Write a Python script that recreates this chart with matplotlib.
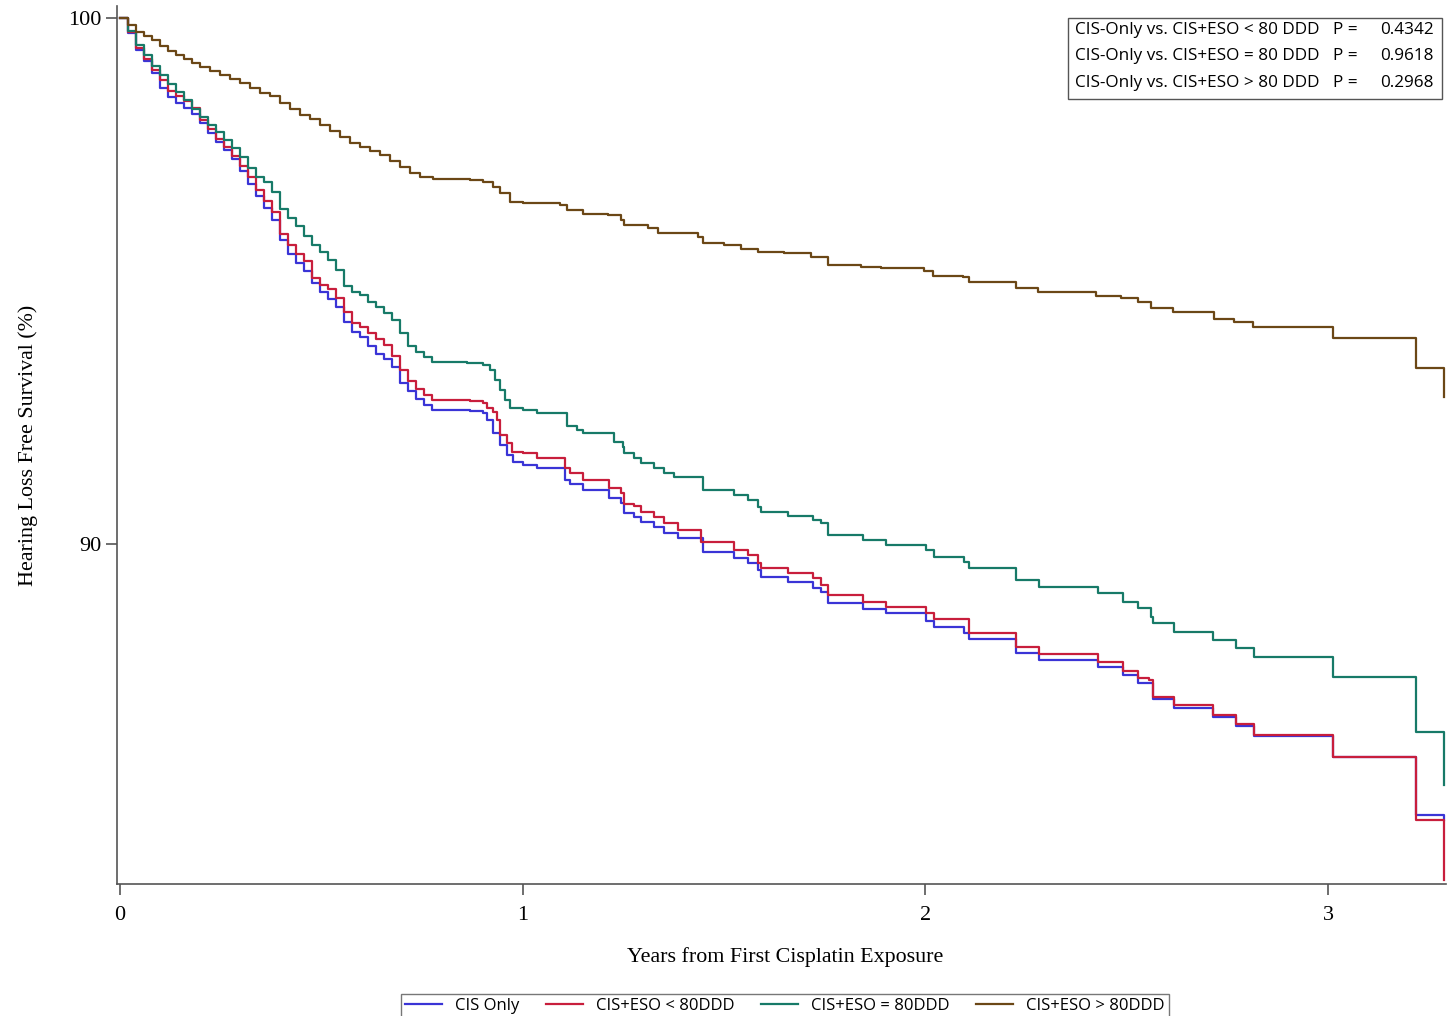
import matplotlib
matplotlib.use("Agg")
import matplotlib.pyplot as plt
from matplotlib.patches import Rectangle

# --- data (years, survival %) ---
# the first ~0.8 years are read at the same time points for the three lower curves
early_t = [0, 0.0199, 0.0398, 0.0597, 0.0795, 0.0994, 0.1193, 0.1392, 0.1591, 0.1790,
           0.1988, 0.2187, 0.2386, 0.2585, 0.2784, 0.2983, 0.3181, 0.3380, 0.3579, 0.3778,
           0.3977, 0.4176, 0.4374, 0.4573, 0.4772, 0.4971, 0.5170, 0.5369, 0.5567, 0.5766,
           0.5965, 0.6164, 0.6363, 0.6562, 0.6761, 0.6959, 0.7158, 0.7357, 0.7556, 0.7755]

cis_only_t = early_t + [0.8699, 0.9023, 0.9122, 0.9271, 0.9445, 0.9619, 0.9768, 1.0017, 1.0365,
                        1.1061, 1.1185, 1.1508, 1.2129, 1.2428, 1.2502, 1.2751, 1.2925, 1.3248,
                        1.3496, 1.3844, 1.4466, 1.5236, 1.5584, 1.5833, 1.5907, 1.6578, 1.7200,
                        1.7399, 1.7573, 1.8443, 1.9014, 2.0008, 2.0207, 2.0953, 2.1077, 2.2246,
                        2.2817, 2.4284, 2.4905, 2.5278, 2.5651, 2.6173, 2.7142, 2.7714, 2.8161,
                        3.0125, 3.2187, 3.2883]
cis_only_s = [100, 99.71, 99.39, 99.18, 98.95, 98.67, 98.50, 98.38, 98.29, 98.17,
              98.00, 97.81, 97.64, 97.49, 97.32, 97.09, 96.84, 96.62, 96.39, 96.16,
              95.78, 95.51, 95.34, 95.19, 94.96, 94.79, 94.66, 94.51, 94.22, 94.03,
              93.94, 93.76, 93.61, 93.52, 93.37, 93.06, 92.91, 92.76, 92.64, 92.55,
              92.53, 92.49, 92.36, 92.11, 91.88, 91.69, 91.56, 91.50, 91.44,
              91.22, 91.14, 91.03, 90.87, 90.78, 90.59, 90.51, 90.42, 90.32,
              90.21, 90.11, 89.85, 89.73, 89.64, 89.51, 89.37, 89.28, 89.16,
              89.09, 88.88, 88.76, 88.69, 88.54, 88.42, 88.31, 88.19, 87.93,
              87.79, 87.66, 87.51, 87.36, 87.05, 86.88, 86.71, 86.54, 86.35,
              85.95, 84.85, 84.75]

eso_lt80_t = early_t + [0.8699, 0.9023, 0.9122, 0.9271, 0.9370, 0.9445, 0.9619, 0.9743, 1.0017,
                        1.0365, 1.1061, 1.1185, 1.1508, 1.2129, 1.2428, 1.2502, 1.2751, 1.2925,
                        1.3248, 1.3496, 1.3844, 1.4416, 1.5236, 1.5584, 1.5833, 1.5907, 1.6578,
                        1.7200, 1.7399, 1.7573, 1.8443, 1.9014, 2.0008, 2.0207, 2.1077, 2.2246,
                        2.2817, 2.4284, 2.4905, 2.5278, 2.5551, 2.5651, 2.6173, 2.7142, 2.7714,
                        2.8161, 3.0125, 3.2187, 3.2883]
eso_lt80_s = [100, 99.73, 99.43, 99.22, 99.01, 98.82, 98.61, 98.52, 98.42, 98.29,
              98.06, 97.89, 97.70, 97.55, 97.38, 97.19, 96.98, 96.73, 96.52, 96.31,
              95.89, 95.68, 95.51, 95.38, 95.06, 94.92, 94.85, 94.68, 94.41, 94.20,
              94.13, 94.01, 93.90, 93.78, 93.57, 93.31, 93.10, 92.95, 92.83, 92.74,
              92.72, 92.68, 92.59, 92.51, 92.36, 92.07, 91.92, 91.75, 91.73,
              91.63, 91.44, 91.35, 91.22, 91.06, 90.97, 90.76, 90.72, 90.61,
              90.51, 90.40, 90.27, 90.04, 89.89, 89.79, 89.64, 89.54, 89.45,
              89.35, 89.22, 89.03, 88.90, 88.80, 88.69, 88.57, 88.31, 88.04,
              87.91, 87.76, 87.59, 87.45, 87.41, 87.09, 86.94, 86.75, 86.58,
              86.37, 85.95, 84.75, 83.61]

eso_eq80_t = early_t + [0.8625, 0.9023, 0.9197, 0.9321, 0.9445, 0.9569, 0.9693, 1.0017, 1.0365,
                        1.1110, 1.1359, 1.1508, 1.2254, 1.2477, 1.2502, 1.2751, 1.2925, 1.3248,
                        1.3496, 1.3745, 1.4466, 1.5236, 1.5584, 1.5833, 1.5907, 1.6578, 1.7200,
                        1.7399, 1.7573, 1.8443, 1.9014, 2.0008, 2.0207, 2.0953, 2.1077, 2.2246,
                        2.2817, 2.4284, 2.4905, 2.5278, 2.5601, 2.5651, 2.6173, 2.7142, 2.7714,
                        2.8161, 3.0125, 3.2187, 3.2883]
eso_eq80_s = [100, 99.75, 99.49, 99.30, 99.09, 98.92, 98.75, 98.59, 98.44, 98.27,
              98.12, 97.97, 97.83, 97.68, 97.53, 97.36, 97.15, 96.98, 96.88, 96.69,
              96.37, 96.20, 96.05, 95.86, 95.68, 95.55, 95.40, 95.21, 94.91, 94.79,
              94.73, 94.60, 94.51, 94.39, 94.26, 94.01, 93.76, 93.65, 93.56, 93.46,
              93.44, 93.40, 93.31, 93.12, 92.93, 92.74, 92.59, 92.55, 92.49,
              92.24, 92.17, 92.11, 91.94, 91.84, 91.73, 91.63, 91.54, 91.44,
              91.35, 91.27, 91.03, 90.93, 90.84, 90.70, 90.61, 90.53, 90.46,
              90.40, 90.17, 90.08, 89.98, 89.89, 89.75, 89.66, 89.54, 89.32,
              89.18, 89.07, 88.90, 88.78, 88.61, 88.50, 88.33, 88.17, 88.02,
              87.85, 87.47, 86.43, 85.42]

eso_gt80_t = [0, 0.0199, 0.0398, 0.0597, 0.0795, 0.0994, 0.1193, 0.1392, 0.1591, 0.1790,
              0.1988, 0.2237, 0.2486, 0.2734, 0.2983, 0.3231, 0.3480, 0.3728, 0.3977, 0.4225,
              0.4474, 0.4722, 0.4971, 0.5220, 0.5468, 0.5717, 0.5965, 0.6214, 0.6462, 0.6711,
              0.6959, 0.7208, 0.7457, 0.7780,
              0.8699, 0.9023, 0.9271, 0.9445, 0.9693, 1.0017, 1.0936, 1.1110, 1.1508, 1.2105,
              1.2428, 1.2502, 1.3099, 1.3347, 1.4342, 1.4466, 1.4988, 1.5411, 1.5833, 1.6479,
              1.7150, 1.7573, 1.8393, 1.8890, 1.9959, 2.0183, 2.0928, 2.1077, 2.2246, 2.2792,
              2.4234, 2.4855, 2.5278, 2.5601, 2.6148, 2.7167, 2.7664, 2.8136, 3.0125, 3.2187,
              3.2883]
eso_gt80_s = [100, 99.87, 99.73, 99.66, 99.58, 99.47, 99.37, 99.30, 99.22, 99.14,
              99.07, 98.99, 98.92, 98.84, 98.76, 98.67, 98.57, 98.52, 98.38, 98.27,
              98.16, 98.08, 97.97, 97.85, 97.74, 97.62, 97.55, 97.47, 97.40, 97.28,
              97.17, 97.05, 96.98, 96.94,
              96.92, 96.88, 96.79, 96.67, 96.50, 96.48, 96.44, 96.35, 96.27, 96.25,
              96.16, 96.06, 96.01, 95.91, 95.84, 95.72, 95.68, 95.61, 95.55, 95.53,
              95.46, 95.30, 95.27, 95.25, 95.19, 95.10, 95.08, 94.98, 94.87, 94.79,
              94.71, 94.68, 94.60, 94.49, 94.41, 94.28, 94.22, 94.13, 93.92, 93.35,
              92.79]

labels = ["CIS Only", "CIS+ESO < 80DDD", "CIS+ESO = 80DDD", "CIS+ESO > 80DDD"]
colors = ["#3a34d6", "#c81e3c", "#177a68", "#6b4716"]

comparisons = ["CIS-Only vs. CIS+ESO < 80 DDD", "CIS-Only vs. CIS+ESO = 80 DDD",
               "CIS-Only vs. CIS+ESO > 80 DDD"]
p_values = ["0.4342", "0.9618", "0.2968"]

x_ticks = [0, 1, 2, 3]
y_ticks = [90, 100]

serif = "Liberation Serif"
sans = ["Open Sans", "DejaVu Sans"]

fig = plt.figure(figsize=(14.47, 10.16), dpi=100)
ax = fig.add_axes([0.0809, 0.1299, 0.9185, 0.8642])

series = [(cis_only_t, cis_only_s), (eso_lt80_t, eso_lt80_s),
          (eso_eq80_t, eso_eq80_s), (eso_gt80_t, eso_gt80_s)]
for (t, s), lab, col in zip(series, labels, colors):
    ax.plot(t, s, drawstyle="steps-post", color=col, lw=1.6, label=lab)

ax.set_xlim(-0.0075, 3.293)
ax.set_ylim(83.54, 100.23)

# SAS-like axes: only left and bottom
ax.spines["top"].set_visible(False)
ax.spines["right"].set_visible(False)
for side in ["left", "bottom"]:
    ax.spines[side].set_color("#555555")
    ax.spines[side].set_linewidth(1.2)

ax.set_xticks(x_ticks)
ax.set_yticks(y_ticks)
ax.tick_params(direction="out", length=8, width=1.2, color="#555555", labelsize=16)
ax.tick_params(axis="x", pad=8)
for lbl in ax.get_xticklabels() + ax.get_yticklabels():
    lbl.set_fontfamily(serif)

ax.set_xlabel("Years from First Cisplatin Exposure", fontsize=15.8, fontfamily=serif)
ax.set_ylabel("Hearing Loss Free Survival (%)", fontsize=15.8, fontfamily=serif)
ax.xaxis.set_label_coords(0.503, -0.0718)
ax.yaxis.set_label_coords(-0.0594, 0.5)

# p-value box in the top right corner
box_l, box_b, box_w, box_h = 1068 / 1447, 1 - 99 / 1016, 374 / 1447, 81 / 1016
fig.patches.append(Rectangle((box_l, box_b), box_w, box_h, transform=fig.transFigure,
                             fill=False, edgecolor="#555555", lw=1.0))
for i, (comp, pv) in enumerate(zip(comparisons, p_values)):
    y = 1 - (30 + i * 26.5) / 1016
    fig.text(1075 / 1447, y, comp, fontsize=12.3, family=sans, va="center", ha="left")
    fig.text(1333 / 1447, y, "P =", fontsize=12.3, family=sans, va="center", ha="left")
    fig.text(1434 / 1447, y, pv, fontsize=12.3, family=sans, va="center", ha="right")

leg = fig.legend(loc="upper center", bbox_to_anchor=(0.5425, 1 - 994 / 1016), ncol=4,
                 frameon=True, fancybox=False, edgecolor="#555555", handlelength=2.2,
                 columnspacing=1.6, borderpad=0.25, borderaxespad=0,
                 prop={"family": sans, "size": 12})
leg.get_frame().set_linewidth(1.0)

fig.savefig("out.png", dpi=100)
